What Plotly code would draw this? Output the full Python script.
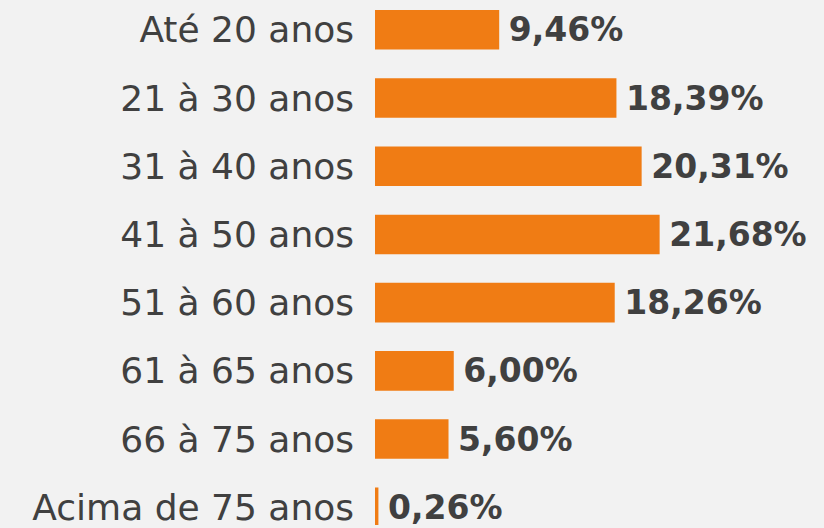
import plotly.graph_objects as go

categories = ["Até 20 anos", "21 à 30 anos", "31 à 40 anos", "41 à 50 anos",
              "51 à 60 anos", "61 à 65 anos", "66 à 75 anos", "Acima de 75 anos"]
values = [9.46, 18.39, 20.31, 21.68, 18.26, 6.00, 5.60, 0.26]

BG = "#f2f2f2"
ORANGE = "#f07c14"
TEXT = "#404040"
FONT = "DejaVu Sans"

fig = go.Figure(go.Bar(
    x=values, y=categories, orientation="h",
    marker=dict(color=ORANGE, line=dict(width=0)),
    texttemplate="\u2009<b>%{x:.2f}%</b>",
    textposition="outside",
    textfont=dict(family=FONT, size=33, color=TEXT),
    cliponaxis=False,
    hoverinfo="skip",
))

fig.update_layout(
    width=824, height=528,
    paper_bgcolor=BG, plot_bgcolor=BG,
    margin=dict(l=375, r=0, t=0, b=0),
    separators=",.",
    bargap=0.42,
    showlegend=False,
    font=dict(family=FONT, color=TEXT),
    xaxis=dict(range=[0, 34.2], visible=False),
    yaxis=dict(
        range=[7.26, -0.437], type="category",
        showgrid=False, zeroline=False, showline=False,
        ticks="", ticklabelstandoff=20,
        tickfont=dict(family=FONT, size=36, color=TEXT),
    ),
)

fig.write_html(
    "out.html",
    config={"displayModeBar": False},
    post_script="document.body.style.margin='0';document.body.style.background='#f2f2f2';",
)
